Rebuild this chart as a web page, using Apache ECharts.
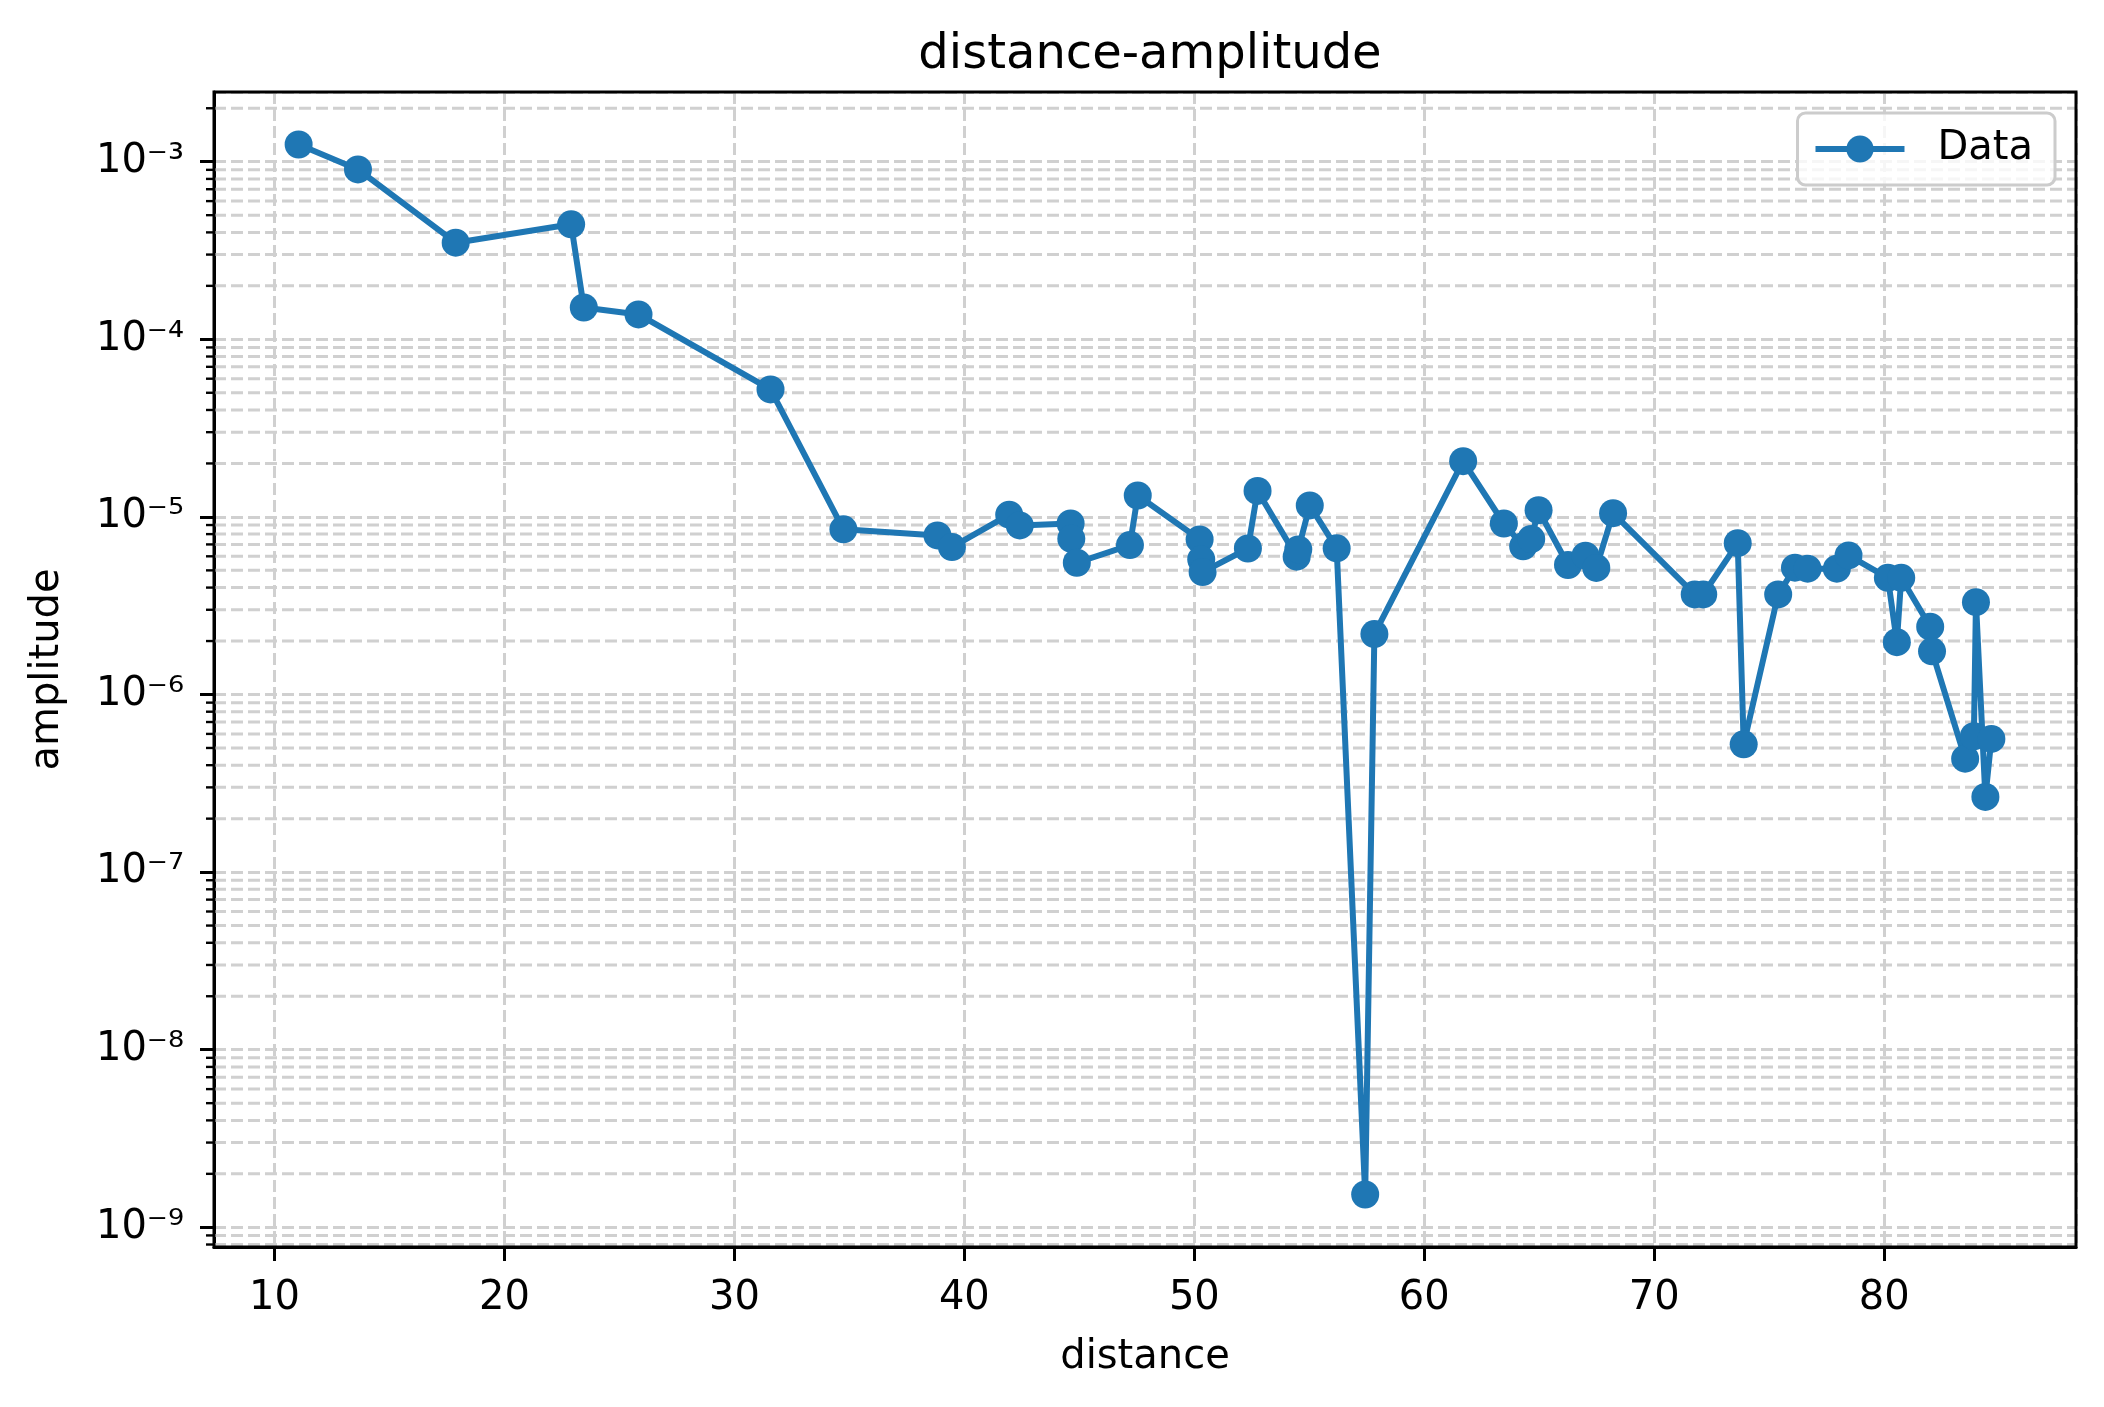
<!DOCTYPE html>
<html>
<head>
<meta charset="utf-8">
<title>distance-amplitude</title>
<script src="https://cdn.jsdelivr.net/npm/echarts@6/dist/echarts.min.js"></script>
<style>
  html, body { margin: 0; padding: 0; background: #fff; }
  #chart { width: 2104px; height: 1407px; }
</style>
</head>
<body>
<div id="chart"></div>
<script>
// measured points (x = distance, y = amplitude)
const distance = [11.05, 13.63, 17.88, 22.90, 23.45, 25.83, 31.57, 34.74, 38.83, 39.46,
    41.95, 42.41, 44.62, 44.65, 44.89, 47.20, 47.54, 50.23, 50.30, 50.36,
    52.33, 52.75, 54.45, 54.52, 55.02, 56.19, 57.43, 57.83, 61.69, 63.46,
    64.30, 64.65, 64.97, 66.25, 67.01, 67.48, 68.21, 71.76, 72.13, 73.63,
    73.89, 75.39, 76.12, 76.67, 77.94, 78.45, 80.16, 80.55, 80.74, 82.00,
    82.08, 83.52, 83.90, 83.99, 84.40, 84.66];
const amplitude = [1.25e-3, 9.05e-4, 3.50e-4, 4.44e-4, 1.51e-4, 1.38e-4, 5.22e-5, 8.51e-6, 7.87e-6, 6.76e-6,
    1.03e-5, 8.95e-6, 9.19e-6, 7.53e-6, 5.52e-6, 6.94e-6, 1.32e-5, 7.47e-6, 5.76e-6, 4.89e-6,
    6.64e-6, 1.40e-5, 5.97e-6, 6.56e-6, 1.16e-5, 6.65e-6, 1.53e-9, 2.19e-6, 2.06e-5, 9.18e-6,
    6.83e-6, 7.51e-6, 1.09e-5, 5.36e-6, 6.05e-6, 5.16e-6, 1.05e-5, 3.66e-6, 3.66e-6, 7.11e-6,
    5.24e-7, 3.66e-6, 5.18e-6, 5.11e-6, 5.11e-6, 6.07e-6, 4.54e-6, 1.97e-6, 4.54e-6, 2.41e-6,
    1.75e-6, 4.35e-7, 5.82e-7, 3.31e-6, 2.65e-7, 5.62e-7];
// tick labels
const xTicks = [10, 20, 30, 40, 50, 60, 70, 80];
const yExponents = [-9, -8, -7, -6, -5, -4, -3];
const minorMantissas = [2, 3, 4, 5, 6, 7, 8, 9];

const sup = { '-': '\u207b', '0': '\u2070', '1': '\u00b9', '2': '\u00b2', '3': '\u00b3',
    '4': '\u2074', '5': '\u2075', '6': '\u2076', '7': '\u2077', '8': '\u2078', '9': '\u2079' };
const font = 'DejaVu Sans';
const gridColor = '#d0d0d0';
const dash = [12, 5];

// axis ranges like matplotlib (5% margins, log space for y)
const xMinD = Math.min(...distance), xMaxD = Math.max(...distance);
const xPad = (xMaxD - xMinD) * 0.05;
const xMin = xMinD - xPad, xMax = xMaxD + xPad;
const lMin = Math.log10(Math.min(...amplitude)), lMax = Math.log10(Math.max(...amplitude));
const lPad = (lMax - lMin) * 0.05;
const yMin = Math.pow(10, lMin - lPad), yMax = Math.pow(10, lMax + lPad);

// minor positions (2..9 x 10^k)
const minorVals = [];
for (let k = -10; k <= -2; k++) {
    minorMantissas.forEach(m => {
        const v = m * Math.pow(10, k);
        if (v > yMin && v < yMax) minorVals.push(v);
    });
}

function expLabel(value) {
    const e = Math.round(Math.log10(value));
    if (Math.abs(Math.log10(value) - e) > 1e-6 || yExponents.indexOf(e) < 0) return '';
    return '10' + String(e).split('').map(c => sup[c]).join('');
}

const chart = echarts.init(document.getElementById('chart'));
chart.setOption({
    animation: false,
    backgroundColor: '#fff',
    title: {
        text: 'distance-amplitude',
        left: 1145, top: 27, textAlign: 'center',
        textStyle: { fontFamily: font, fontSize: 48, fontWeight: 'normal', color: '#000' }
    },
    legend: {
        data: ['Data'],
        right: 49, top: 113,
        padding: [16, 22, 16, 15],
        itemWidth: 89, itemHeight: 34,
        lineStyle: { width: 6 },
        borderColor: '#cccccc', borderWidth: 3, borderRadius: 8,
        backgroundColor: 'rgba(255,255,255,0.8)',
        textStyle: { fontFamily: font, fontSize: 40, color: '#000', padding: [0, 0, 0, 28] }
    },
    grid: { left: 214, right: 28, top: 92, bottom: 160 },
    xAxis: {
        type: 'value',
        min: xMin, max: xMax,
        splitNumber: 8,
        name: 'distance', nameLocation: 'middle', nameGap: 91,
        nameTextStyle: { fontFamily: font, fontSize: 40, color: '#000' },
        axisLine: { show: true, onZero: false, lineStyle: { color: '#000', width: 3 } },
        axisTick: { show: true, inside: false, length: 14, lineStyle: { color: '#000', width: 3 } },
        axisLabel: {
            fontFamily: font, fontSize: 40, color: '#000', margin: 32,
            showMinLabel: false, showMaxLabel: false,
            formatter: v => (xTicks.indexOf(Math.round(v)) >= 0 && Math.abs(v - Math.round(v)) < 1e-6) ? String(Math.round(v)) : ''
        },
        splitLine: { show: true, lineStyle: { color: gridColor, width: 3, type: dash } }
    },
    yAxis: {
        type: 'log',
        logBase: 10,
        min: yMin, max: yMax,
        splitNumber: 6,
        name: 'amplitude', nameLocation: 'middle', nameGap: 146,
        nameTextStyle: { fontFamily: font, fontSize: 40, color: '#000' },
        axisLine: { show: true, onZero: false, lineStyle: { color: '#000', width: 3 } },
        axisTick: { show: true, inside: false, length: 14, lineStyle: { color: '#000', width: 3 } },
        axisLabel: {
            fontFamily: font, fontSize: 40, color: '#000', margin: 30,
            showMinLabel: false, showMaxLabel: false,
            formatter: expLabel
        },
        splitLine: { show: true, lineStyle: { color: gridColor, width: 3, type: dash } }
    },
    series: [
        {
            name: 'Data',
            type: 'line',
            z: 5,
            data: distance.map((d, i) => [d, amplitude[i]]),
            symbol: 'circle',
            symbolSize: 28,
            lineStyle: { color: '#1f77b4', width: 6 },
            itemStyle: { color: '#1f77b4' }
        }
    ]
});

// minor grid lines, minor ticks and the frame, placed through the chart's own scales
const extras = [];
const lt = chart.convertToPixel({ gridIndex: 0 }, [xMin, yMax]);
const rb = chart.convertToPixel({ gridIndex: 0 }, [xMax, yMin]);
minorVals.forEach(v => {
    const a = chart.convertToPixel({ gridIndex: 0 }, [xMin, v]);
    const b = chart.convertToPixel({ gridIndex: 0 }, [xMax, v]);
    extras.push({
        type: 'line', z: 1, silent: true,
        shape: { x1: a[0], y1: a[1], x2: b[0], y2: b[1] },
        style: { stroke: gridColor, lineWidth: 3, lineDash: dash }
    });
    extras.push({
        type: 'line', z: 6, silent: true,
        shape: { x1: a[0] - 8, y1: a[1], x2: a[0], y2: a[1] },
        style: { stroke: '#000', lineWidth: 2.4 }
    });
});
extras.push({
    type: 'rect', z: 10, silent: true,
    shape: { x: lt[0], y: lt[1], width: rb[0] - lt[0], height: rb[1] - lt[1] },
    style: { fill: null, stroke: '#000', lineWidth: 3 }
});
chart.setOption({ graphic: extras });
</script>
</body>
</html>
